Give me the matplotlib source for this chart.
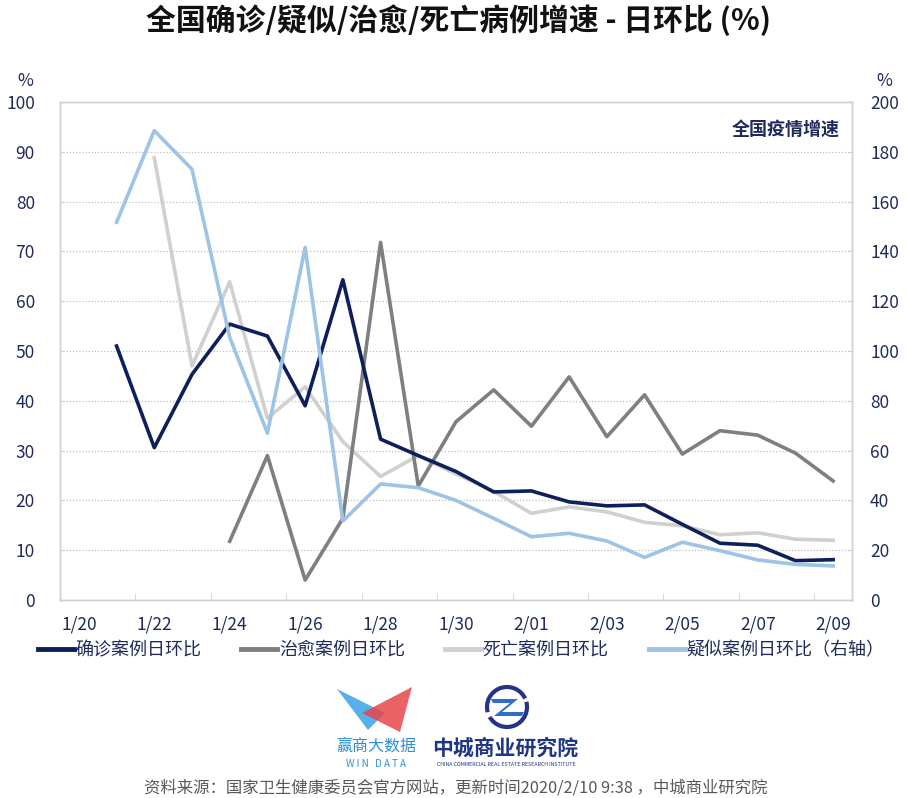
import numpy as np
import matplotlib
matplotlib.use('Agg')
from matplotlib import pyplot as plt
from matplotlib.patches import Polygon, Arc
from matplotlib.lines import Line2D

plt.rcParams['font.family'] = ['Noto Sans CJK SC', 'DejaVu Sans']

nan = np.nan

dates = ['1/20', '1/21', '1/22', '1/23', '1/24', '1/25', '1/26', '1/27', '1/28',
         '1/29', '1/30', '1/31', '2/01', '2/02', '2/03', '2/04', '2/05', '2/06',
         '2/07', '2/08', '2/09']

confirmed = [nan, 51.0, 30.6, 45.3, 55.4, 53.0, 39.0, 64.3, 32.3, 29.0, 25.8,
             21.7, 21.9, 19.7, 18.9, 19.1, 15.2, 11.4, 11.0, 7.9, 8.1]
recovered = [nan, nan, nan, nan, 11.8, 29.0, 4.0, 16.4, 71.8, 22.9, 35.8,
             42.2, 34.9, 44.8, 32.8, 41.2, 29.3, 34.0, 33.1, 29.5, 23.9]
deaths = [nan, nan, 88.8, 47.0, 63.9, 36.5, 42.8, 31.8, 24.8, 29.0, 25.3,
          21.8, 17.4, 18.7, 17.7, 15.6, 14.9, 13.1, 13.5, 12.2, 12.0]
suspected = [nan, 151.7, 188.5, 173.0, 105.5, 67.0, 141.6, 31.7, 46.6, 45.1,
             40.0, 32.8, 25.4, 26.8, 23.7, 17.1, 23.2, 19.8, 16.1, 14.3, 13.7]

series_names = ['确诊案例日环比', '治愈案例日环比', '死亡案例日环比', '疑似案例日环比（右轴）']
series_colors = ['#0e1f5b', '#7f7f7f', '#d0d0d0', '#9dc3e6']

navy_text = '#1f2a5c'

fig = plt.figure(figsize=(9.08, 7.98), dpi=100)
ax = fig.add_axes([60 / 908, 1 - 600 / 798, 792 / 908, 498 / 798])
ax2 = ax.twinx()

x = np.arange(len(dates))
lw = 2.6
ax.plot(x, confirmed, color=series_colors[0], lw=lw, zorder=3)
ax.plot(x, recovered, color=series_colors[1], lw=lw, zorder=2)
ax.plot(x, deaths, color=series_colors[2], lw=lw, zorder=1)
ax2.plot(x, suspected, color=series_colors[3], lw=lw, zorder=4)

ax.set_xlim(-0.5, len(dates) - 0.5)
ax.set_ylim(0, 100)
ax2.set_ylim(0, 200)

ax.set_yticks(np.arange(0, 101, 10))
ax2.set_yticks(np.arange(0, 201, 20))
ax.set_xticks(x[::2])
ax.set_xticklabels(dates[::2])
ax.set_xticks(np.arange(1.5, len(dates) - 1, 2), minor=True)

for a in (ax, ax2):
    for s in a.spines.values():
        s.set_color('#d0d0d0')
        s.set_linewidth(1.0)
ax.tick_params(axis='x', which='major', length=0, pad=11, labelsize=12.5, labelcolor=navy_text)
ax.tick_params(axis='x', which='minor', direction='in', length=5, color='#d0d0d0')
ax.tick_params(axis='y', direction='in', length=3, color='#d0d0d0', pad=18,
               labelsize=12.5, labelcolor=navy_text)
ax2.tick_params(axis='y', direction='in', length=3, color='#d0d0d0', pad=13,
                labelsize=12.5, labelcolor=navy_text)

for v in range(10, 100, 10):
    ax.axhline(v, color='#c0c0c0', lw=0.9, ls=(0, (1, 1.5)), zorder=0)

fig.text(25 / 908, 1 - 81 / 798, '%', ha='center', va='center', fontsize=12.5, color=navy_text)
fig.text(884 / 908, 1 - 81 / 798, '%', ha='center', va='center', fontsize=12.5, color=navy_text)

ax.text(0.985, 0.945, '全国疫情增速', transform=ax.transAxes, ha='right', va='center',
        fontsize=13, fontweight='bold', color=navy_text)

fig.text(458 / 908, 1 - 20 / 798, '全国确诊/疑似/治愈/死亡病例增速 - 日环比 (%)', ha='center', va='center',
         fontsize=21.5, fontweight='bold', color='#111111')

handles = [Line2D([], [], color=c, lw=3.5) for c in series_colors]
fig.legend(handles, series_names, loc='center', bbox_to_anchor=(461 / 908, 1 - 650 / 798),
           ncol=4, frameon=False, fontsize=13, labelcolor=navy_text,
           handlelength=2.0, handletextpad=0.1, columnspacing=2.2)

# logos drawn on an overlay in pixel coordinates
ov = fig.add_axes([0, 0, 1, 1], zorder=10)
ov.set_xlim(0, 908)
ov.set_ylim(798, 0)
ov.axis('off')

ov.add_patch(Polygon([(337, 689), (385, 713), (368, 730)], closed=True,
                     color='#45a8e8', alpha=0.9, lw=0))
ov.add_patch(Polygon([(412, 687), (400, 732), (362, 713)], closed=True,
                     color='#e8474a', alpha=0.85, lw=0))
ov.text(376, 746, '赢商大数据', ha='center', va='center', fontsize=11.5, color='#2b8fd8')
ov.text(376, 764, 'W I N   D A T A', ha='center', va='center', fontsize=7, color='#2b8fd8')

ov.add_patch(Arc((507, 707), 40, 40, theta1=165, theta2=335, lw=3, color='#23338a'))
ov.add_patch(Arc((507, 707), 40, 40, theta1=345, theta2=150, lw=3, color='#23338a'))
ov.add_patch(Polygon([(491, 699), (518, 699), (502, 712), (524, 712), (522, 716),
                      (494, 716), (510, 703), (493, 703)], closed=True, color='#2f6fc8', lw=0))
ov.text(505, 748, '中城商业研究院', ha='center', va='center', fontsize=15,
        fontweight='bold', color='#1f3585')
ov.text(506, 764, 'CHINA COMMERCIAL REAL ESTATE RESEARCH INSTITUTE', ha='center',
        va='center', fontsize=3.8, color='#1f3585')

fig.text(456 / 908, 1 - 788 / 798, '资料来源：国家卫生健康委员会官方网站，更新时间2020/2/10 9:38 ，中城商业研究院',
         ha='center', va='center', fontsize=11.8, color='#595959')

fig.savefig('out.png', dpi=100)
